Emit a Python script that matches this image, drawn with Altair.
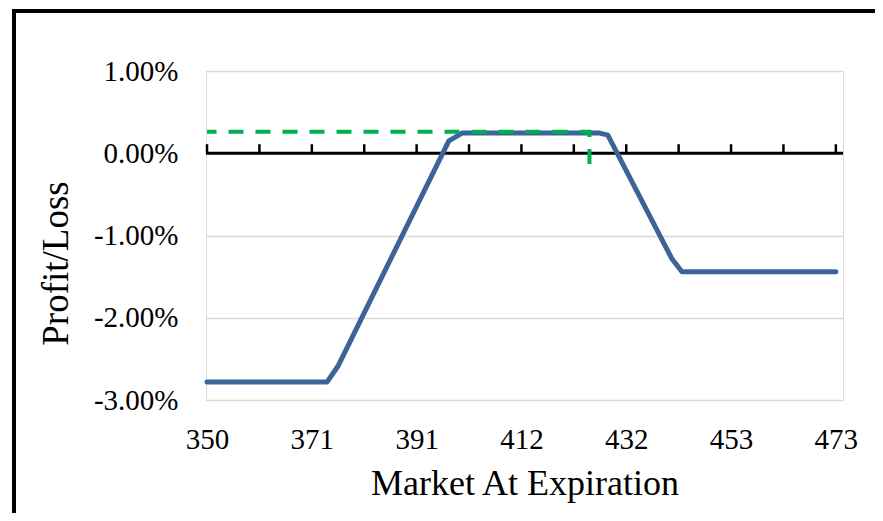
import altair as alt
import pandas as pd

# Profit/Loss curve (market at expiration vs P/L)
market = [350, 373.5, 375.6, 397.3, 399.9, 426.8, 428.4, 440.9, 442.9, 473]
pnl = [-0.0278, -0.0278, -0.0259, 0.0015, 0.00245, 0.00245, 0.0022, -0.0128, -0.0144, -0.0144]

# green dashed marker line (drawn from the bottom of the vertical part)
marker_x = [424.8, 424.8, 350]
marker_y = [-0.0013, 0.0026, 0.0026]
marker_order = [0, 1, 2]

x_label_values = [350, 370.5, 391, 411.5, 432, 452.5, 473]
x_tick_values = [350, 360.25, 370.5, 380.75, 391, 401.25, 411.5, 421.75, 432, 442.25, 452.5, 462.75, 473]
y_values = [-0.03, -0.02, -0.01, 0.0, 0.01]

W, H = 637, 329
FONT = "Liberation Serif"
xscale = alt.Scale(domain=[349.8, 474.4], nice=False, zero=False)
yscale = alt.Scale(domain=[-0.03, 0.01], nice=False, zero=False)

df = pd.DataFrame({"market": market, "pnl": pnl})
df_marker = pd.DataFrame({"market": marker_x, "pnl": marker_y, "ord": marker_order})
df_ticks = pd.DataFrame({"market": x_tick_values, "pnl": [0.0] * len(x_tick_values),
                         "pnl2": [0.0011] * len(x_tick_values)})
df_zero = pd.DataFrame({"pnl": [0.0]})

border = alt.Chart(pd.DataFrame({"k": [0]})).mark_rect(
    fillOpacity=0, stroke="black", strokeWidth=4
).encode(x=alt.value(-192), x2=alt.value(W + 80), y=alt.value(-60), y2=alt.value(H + 200))

zero = alt.Chart(df_zero).mark_rule(color="black", strokeWidth=3).encode(
    y=alt.Y("pnl:Q", scale=yscale)
)

ticks = alt.Chart(df_ticks).mark_rule(color="black", strokeWidth=2.5).encode(
    x=alt.X("market:Q", scale=xscale),
    y=alt.Y("pnl:Q", scale=yscale),
    y2="pnl2:Q",
)

line = alt.Chart(df).mark_line(
    color="#3B6497", strokeWidth=5, strokeCap="round", strokeJoin="round"
).encode(
    x=alt.X(
        "market:Q", scale=xscale,
        axis=alt.Axis(
            values=x_label_values, format="d", title="Market At Expiration",
            grid=False, domain=False, ticks=False, tickSize=0,
            labelPadding=48, labelBaseline="alphabetic", labelFont=FONT,
            labelFontSize=29, labelColor="black", labelFlush=False, labelOverlap=False,
            titleFont=FONT, titleFontSize=36, titleFontWeight="normal", titleColor="black",
            titleY=94, titleBaseline="alphabetic",
        ),
    ),
    y=alt.Y(
        "pnl:Q", scale=yscale,
        axis=alt.Axis(
            values=y_values, labelExpr="replace(format(datum.value, '.2%'), '\u2212', '-')",
            grid=True, gridColor="#d9d9d9", gridWidth=1.3, domain=False, ticks=False, tickSize=0,
            labelPadding=28, labelFont=FONT, labelFontSize=29, labelColor="black",
            labelFlush=False, labelOverlap=False,
            title="Profit/Loss", titleFont=FONT, titleFontSize=37, titleFontWeight="normal",
            titleColor="black", titleAngle=270, titleX=-139, titleY=192,
            titleBaseline="alphabetic", titleAlign="center",
        ),
    ),
)

marker = alt.Chart(df_marker).mark_line(
    color="#00B050", strokeWidth=4, strokeDash=[15, 12]
).encode(
    x=alt.X("market:Q", scale=xscale),
    y=alt.Y("pnl:Q", scale=yscale),
    order="ord:Q",
)

chart = alt.layer(border, zero, ticks, line, marker).properties(
    width=W, height=H,
    padding={"left": 198, "top": 63, "right": 32, "bottom": 113},
    autosize=alt.AutoSizeParams(type="none"),
).configure_view(stroke=None).configure(background="white")

chart.save("out.html", embed_options={"renderer": "svg", "actions": False})
